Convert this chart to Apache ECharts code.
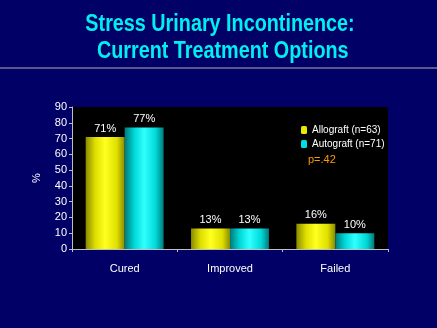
<!DOCTYPE html>
<html><head><meta charset="utf-8">
<script src="https://cdn.jsdelivr.net/npm/echarts@6/dist/echarts.min.js"></script>
<style>html,body{margin:0;padding:0;background:#000066;}#c{width:437px;height:328px;}</style>
</head><body><div id="c"></div>
<script>
const categories = ['Cured', 'Improved', 'Failed'];
const allograft = [71, 13, 16];
const autograft = [77, 13, 10];
const seriesNames = ['Allograft (n=63)', 'Autograft (n=71)'];
const yTicks = [0, 10, 20, 30, 40, 50, 60, 70, 80, 90];
const titleLines = ['Stress Urinary Incontinence:', ' Current Treatment Options'];
const pText = 'p=.42';

const FONT = "'Liberation Sans', Arial, sans-serif";
const chart = echarts.init(document.getElementById('c'));
function grad(dark, mid, light) {
  return new echarts.graphic.LinearGradient(0, 0, 1, 0, [
    {offset: 0, color: dark}, {offset: 0.25, color: mid}, {offset: 0.5, color: light},
    {offset: 0.8, color: mid}, {offset: 1, color: dark}
  ]);
}
function titleText(t, y) {
  return {type: 'text', x: 220, y: y, scaleX: 0.86, z: 10,
    style: {text: t, textAlign: 'center', textVerticalAlign: 'middle', fill: '#00f0f0',
      font: "bold 23px 'Liberation Sans', Arial, sans-serif",
      shadowColor: '#000022', shadowOffsetX: 1, shadowOffsetY: 1, shadowBlur: 0}};
}
const lbl = {show: true, position: 'top', color: '#ffffff', fontSize: 11, fontFamily: FONT, formatter: p => p.value + '%', distance: 3};
chart.setOption({
  backgroundColor: '#000066',
  animation: false,
  legend: {
    orient: 'vertical', left: 296, top: 120, itemWidth: 6, itemHeight: 8, itemGap: 4,
    textStyle: {color: '#ffffff', fontSize: 10, fontFamily: FONT},
    data: [{name: seriesNames[0], itemStyle: {color: '#e8e800'}}, {name: seriesNames[1], itemStyle: {color: '#00e0e0'}}]
  },
  graphic: [
    titleText(titleLines[0], 25),
    titleText(titleLines[1], 52),
    {type: 'line', shape: {x1: 0, y1: 68, x2: 437, y2: 68}, style: {stroke: '#b0b0b0', lineWidth: 1}},
    {type: 'text', left: 308, top: 154, style: {text: pText, fill: '#ff9900', fontSize: 11, fontFamily: FONT}}
  ],
  grid: {left: 72, right: 49, top: 107, bottom: 79, backgroundColor: '#000000', show: true, borderWidth: 0},
  xAxis: {
    type: 'category', data: categories,
    axisLine: {lineStyle: {color: '#c0c0c0'}},
    axisTick: {show: true, alignWithLabel: false, length: 3, lineStyle: {color: '#c0c0c0'}},
    axisLabel: {color: '#ffffff', fontSize: 11, fontFamily: FONT, margin: 14}
  },
  yAxis: {
    type: 'value', min: yTicks[0], max: yTicks[yTicks.length - 1], interval: 10,
    name: '%', nameLocation: 'middle', nameGap: 30, nameRotate: 90,
    nameTextStyle: {color: '#ffffff', fontSize: 11, fontFamily: FONT},
    axisLine: {show: true, lineStyle: {color: '#c0c0c0'}},
    axisTick: {show: true, length: 3, lineStyle: {color: '#c0c0c0'}},
    splitLine: {show: false},
    axisLabel: {color: '#ffffff', fontSize: 11, fontFamily: FONT, margin: 5}
  },
  series: [
    {name: seriesNames[0], type: 'bar', data: allograft, barGap: '0%', barCategoryGap: '26%',
     itemStyle: {color: grad('#8a8a00', '#e0e000', '#ffff20')}, label: lbl},
    {name: seriesNames[1], type: 'bar', data: autograft,
     itemStyle: {color: grad('#007a7a', '#00d8d8', '#30ffff')}, label: lbl}
  ]
});
</script></body></html>
